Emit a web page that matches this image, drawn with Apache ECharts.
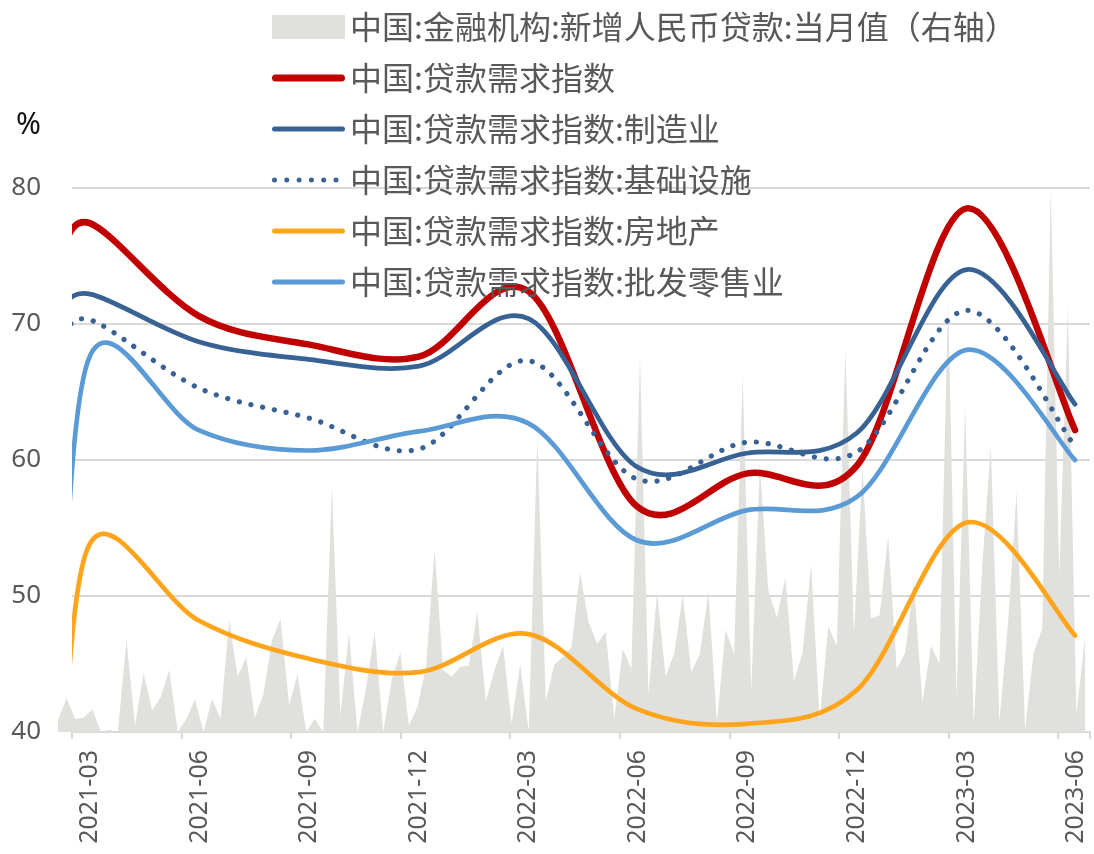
<!DOCTYPE html>
<html>
<head>
<meta charset="utf-8">
<script src="https://cdn.jsdelivr.net/npm/echarts@6/dist/echarts.min.js"></script>
<style>
html,body{margin:0;padding:0;background:#ffffff;}
#chart{width:1094px;height:854px;}
</style>
</head>
<body>
<div id="chart"></div>
<script>
// ---------------- data ----------------
const xTickLabels = ['2021-03','2021-06','2021-09','2021-12','2022-03','2022-06','2022-09','2022-12','2023-03','2023-06'];

// dates of the index observations (first row carries the value before 2021Q1)
const quarterDates = ['2021-03-05','2021-03-31','2021-06-30','2021-09-30','2021-12-31','2022-03-31','2022-06-30','2022-09-30','2022-12-31','2023-03-31','2023-06-30'];

const loanDemand      = [74.5, 77.4, 70.6, 68.5, 67.6, 72.4, 56.6, 59.0, 59.6, 78.5, 62.2];
const manufacturing   = [70.8, 72.2, 68.7, 67.4, 66.9, 70.4, 59.5, 60.5, 62.0, 74.0, 64.1];
const infrastructure  = [68.5, 70.3, 65.3, 63.1, 60.8, 67.3, 58.6, 61.3, 60.6, 71.0, 61.0];
const realEstate      = [31.0, 53.9, 48.2, 45.4, 44.4, 47.2, 41.7, 40.6, 43.1, 55.4, 47.1];
const wholesaleRetail = [40.5, 67.7, 62.2, 60.7, 62.1, 62.7, 54.1, 56.3, 57.3, 68.1, 60.0];

// right axis: new RMB loans (亿元), one value per week
const weeklyLoans = [
  1100, 3100, 1200, 1300, 2100, 0, 200, 0, 8500, 600,
  5400, 2000, 3200, 5700, 0, 1200, 3000, 0, 3000, 1200,
  10300, 5100, 6900, 1300, 3500, 8400, 10400, 2500, 5300, 0,
  1200, 0, 22700, 1500, 9100, 0, 4100, 9200, 0, 4800,
  7300, 600, 2300, 6000, 16800, 5700, 5100, 6000, 6100, 11100,
  2800, 5700, 7900, 800, 6200, 100, 27100, 2900, 6200, 6900,
  7800, 14700, 10100, 8100, 9200, 1200, 7600, 5800, 34600, 3500,
  12900, 5100, 7200, 12600, 5500, 7200, 12900, 900, 9400, 7200,
  32800, 3800, 24600, 13000, 10500, 14200, 4700, 7300, 15400, 1200,
  9700, 7900, 35300, 9000, 24300, 10400, 10700, 18000, 5800, 7300,
  13800, 2700, 7900, 6300, 39700, 3100, 30000, 700, 15400, 26300,
  1000, 9900, 22100, 300, 7300, 9500, 50000, 14500, 39200, 1700,
  8600
];

const names = {
  loans: '中国:金融机构:新增人民币贷款:当月值（右轴）',
  demand: '中国:贷款需求指数',
  manu: '中国:贷款需求指数:制造业',
  infra: '中国:贷款需求指数:基础设施',
  estate: '中国:贷款需求指数:房地产',
  retail: '中国:贷款需求指数:批发零售业'
};

// ---------------- helpers ----------------
// months from the "2021-03" tick (ticks sit mid-month)
function toMonth(d) {
  const p = d.split('-').map(Number);
  return (p[0] - 2021) * 12 + (p[1] - 3) + (p[2] - 16) / 30;
}

function smoothLine(name, vals, color, width, dash) {
  return {
    name: name,
    type: 'custom',
    xAxisIndex: 0,
    yAxisIndex: 0,
    clip: true,
    z: 3,
    itemStyle: { color: color },
    data: quarterDates.map((d, i) => [toMonth(d), vals[i]]),
    renderItem: function (params, api) {
      if (params.dataIndexInside !== 0) return null;
      const n = params.dataInsideLength;
      const pts = [];
      for (let i = 0; i < n; i++) pts.push(api.coord([api.value(0, i), api.value(1, i)]));
      let d = 'M' + pts[0][0] + ',' + pts[0][1];
      for (let i = 0; i < n - 1; i++) {
        const p0 = pts[Math.max(i - 1, 0)], p1 = pts[i], p2 = pts[i + 1], p3 = pts[Math.min(i + 2, n - 1)];
        const c1x = p1[0] + (p2[0] - p0[0]) / 6, c1y = p1[1] + (p2[1] - p0[1]) / 6;
        const c2x = p2[0] - (p3[0] - p1[0]) / 6, c2y = p2[1] - (p3[1] - p1[1]) / 6;
        d += ' C' + c1x + ',' + c1y + ' ' + c2x + ',' + c2y + ' ' + p2[0] + ',' + p2[1];
      }
      const cs = params.coordSys;
      return {
        type: 'path',
        shape: { pathData: d },
        clipPath: { type: 'rect', shape: { x: cs.x, y: cs.y, width: cs.width, height: cs.height } },
        style: { fill: null, stroke: color, lineWidth: width, lineDash: dash || null, lineCap: 'round', lineJoin: 'round' }
      };
    }
  };
}

function barIcon(h) {
  const r = h / 2, y0 = 12 - r, y1 = 12 + r;
  return 'path://M0,0Z M73,24Z M' + r + ',' + y0 + ' L' + (73 - r) + ',' + y0 +
    ' A' + r + ',' + r + ' 0 0 1 ' + (73 - r) + ',' + y1 + ' L' + r + ',' + y1 +
    ' A' + r + ',' + r + ' 0 0 1 ' + r + ',' + y0 + ' Z';
}
function dotIcon() {
  let p = 'path://M0,0Z M73,24Z';
  const r = 2.5;
  for (let i = 0; i < 6; i++) {
    const cx = 2.5 + i * 12.3;
    p += ' M' + (cx - r) + ',12 A' + r + ',' + r + ' 0 1 0 ' + (cx + r) + ',12 A' + r + ',' + r + ' 0 1 0 ' + (cx - r) + ',12 Z';
  }
  return p;
}

const LABEL = '#595959';
const GRID = '#d9d9d9';

const chart = echarts.init(document.getElementById('chart'), null, { renderer: 'canvas' });
chart.setOption({
  backgroundColor: '#ffffff',
  animation: false,
  grid: [
    { left: 72, right: 0, top: 188, bottom: 122 },
    { left: 58, width: 1027, top: 188, bottom: 122 }
  ],
  xAxis: [
    {
      gridIndex: 0, type: 'value', min: 0, max: 27.87, interval: 3,
      axisLine: { show: true, lineStyle: { color: GRID, width: 2 } },
      axisTick: { show: true, length: 7, lineStyle: { color: GRID, width: 2 } },
      splitLine: { show: false },
      axisLabel: {
        rotate: 90, margin: 18, color: LABEL, fontSize: 25, fontFamily: 'Noto Sans',
        verticalAlign: 'top', lineHeight: 36,
        formatter: function (v) {
          const k = v / 3;
          return Math.abs(k - Math.round(k)) < 1e-6 ? (xTickLabels[Math.round(k)] || '') : '';
        }
      }
    },
    { gridIndex: 1, type: 'value', min: 0, max: weeklyLoans.length - 1, show: false }
  ],
  yAxis: [
    {
      gridIndex: 0, type: 'value', min: 40, max: 80, interval: 10,
      axisLine: { show: false }, axisTick: { show: false },
      splitLine: { show: true, lineStyle: { color: GRID, width: 2 } },
      axisLabel: { color: LABEL, fontSize: 26, margin: 31, fontFamily: 'Noto Sans' }
    },
    { gridIndex: 1, type: 'value', min: 0, max: 50000, show: false }
  ],
  legend: {
    orient: 'vertical', left: 267, top: 5,
    itemWidth: 73, itemHeight: 24, itemGap: 17,
    itemStyle: { borderWidth: 0 },
    textStyle: { fontSize: 32, color: LABEL, fontFamily: 'Noto Sans CJK SC', lineHeight: 34 },
    data: [
      { name: names.loans, icon: 'rect' },
      { name: names.demand, icon: barIcon(7) },
      { name: names.manu, icon: barIcon(5) },
      { name: names.infra, icon: dotIcon() },
      { name: names.estate, icon: barIcon(5) },
      { name: names.retail, icon: barIcon(5) }
    ]
  },
  graphic: [
    { type: 'text', left: 16, top: 110, style: { text: '%', fontSize: 30, fill: '#111111', fontFamily: 'Noto Sans' } }
  ],
  series: [
    {
      name: names.loans, type: 'line', xAxisIndex: 1, yAxisIndex: 1, z: 2,
      data: weeklyLoans.map((v, i) => [i, v]),
      symbol: 'none', smooth: false,
      itemStyle: { color: '#e0e0dc' },
      lineStyle: { width: 0, color: '#e0e0dc' },
      areaStyle: { color: '#e0e0dc', opacity: 1 }
    },
    smoothLine(names.demand, loanDemand, '#c00000', 6.5),
    smoothLine(names.manu, manufacturing, '#386194', 4.7),
    smoothLine(names.infra, infrastructure, '#386194', 5.2, [0.1, 11.9]),
    smoothLine(names.estate, realEstate, '#ffa41b', 4.7),
    smoothLine(names.retail, wholesaleRetail, '#5b9bd5', 4.7)
  ]
});
</script>
</body>
</html>
